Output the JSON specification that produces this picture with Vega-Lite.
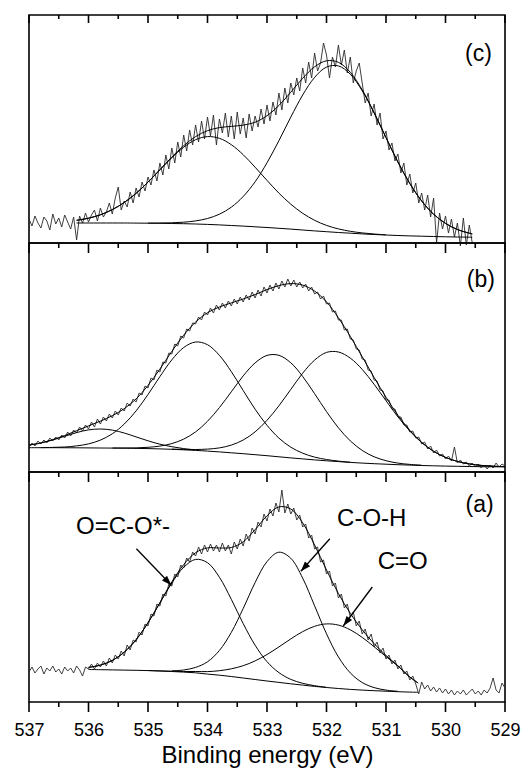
{
"$schema": "https://vega.github.io/schema/vega-lite/v6.json",
"padding": {"left": 13, "top": 13, "right": 2, "bottom": 2},
"background": "white",
"bounds": "flush",
"spacing": 0,
"resolve": {"scale": {"x": "independent", "y": "independent"}},
"config": {"view": {"stroke": "black", "strokeWidth": 1.6}, "font": "Liberation Sans", "axis": {"domain": false, "grid": false}},
"datasets": {
"tmaj": [{"E":529.0},{"E":530.0},{"E":531.0},{"E":532.0},{"E":533.0},{"E":534.0},{"E":535.0},{"E":536.0},{"E":537.0}],
"tmin": [{"E":529.5},{"E":530.5},{"E":531.5},{"E":532.5},{"E":533.5},{"E":534.5},{"E":535.5},{"E":536.5}],
"c_data": [
{"E":537.00,"I":24},{"E":536.95,"I":17},{"E":536.90,"I":27},{"E":536.85,"I":20},{"E":536.80,"I":15},{"E":536.75,"I":26},{"E":536.70,"I":22},{"E":536.65,"I":13},{"E":536.60,"I":29},{"E":536.55,"I":19},
{"E":536.50,"I":25},{"E":536.45,"I":16},{"E":536.40,"I":28},{"E":536.35,"I":21},{"E":536.30,"I":14},{"E":536.25,"I":26},{"E":536.20,"I":3},{"E":536.15,"I":27},{"E":536.10,"I":20},{"E":536.05,"I":30},
{"E":536.00,"I":21},{"E":535.95,"I":28},{"E":535.90,"I":33},{"E":535.85,"I":22},{"E":535.80,"I":35},{"E":535.75,"I":26},{"E":535.70,"I":31},{"E":535.65,"I":40},{"E":535.60,"I":29},{"E":535.55,"I":45},
{"E":535.50,"I":56},{"E":535.45,"I":33},{"E":535.40,"I":42},{"E":535.35,"I":36},{"E":535.30,"I":51},{"E":535.25,"I":40},{"E":535.20,"I":55},{"E":535.15,"I":46},{"E":535.10,"I":61},{"E":535.05,"I":52},
{"E":535.00,"I":66},{"E":534.95,"I":58},{"E":534.90,"I":73},{"E":534.85,"I":62},{"E":534.80,"I":80},{"E":534.75,"I":68},{"E":534.70,"I":88},{"E":534.65,"I":74},{"E":534.60,"I":95},{"E":534.55,"I":80},
{"E":534.50,"I":101},{"E":534.45,"I":86},{"E":534.40,"I":108},{"E":534.35,"I":92},{"E":534.30,"I":113},{"E":534.25,"I":98},{"E":534.20,"I":118},{"E":534.15,"I":101},{"E":534.10,"I":122},{"E":534.05,"I":104},
{"E":534.00,"I":126},{"E":533.95,"I":107},{"E":533.90,"I":128},{"E":533.85,"I":98},{"E":533.80,"I":124},{"E":533.75,"I":110},{"E":533.70,"I":130},{"E":533.65,"I":106},{"E":533.60,"I":127},{"E":533.55,"I":104},
{"E":533.50,"I":131},{"E":533.45,"I":109},{"E":533.40,"I":125},{"E":533.35,"I":105},{"E":533.30,"I":129},{"E":533.25,"I":112},{"E":533.20,"I":127},{"E":533.15,"I":116},{"E":533.10,"I":134},{"E":533.05,"I":119},
{"E":533.00,"I":138},{"E":532.95,"I":122},{"E":532.90,"I":141},{"E":532.85,"I":128},{"E":532.80,"I":150},{"E":532.75,"I":133},{"E":532.70,"I":155},{"E":532.65,"I":140},{"E":532.60,"I":160},{"E":532.55,"I":148},
{"E":532.50,"I":165},{"E":532.45,"I":152},{"E":532.40,"I":175},{"E":532.35,"I":160},{"E":532.30,"I":181},{"E":532.25,"I":165},{"E":532.20,"I":190},{"E":532.15,"I":172},{"E":532.10,"I":180},{"E":532.05,"I":200},
{"E":532.00,"I":188},{"E":531.95,"I":165},{"E":531.90,"I":186},{"E":531.85,"I":176},{"E":531.80,"I":198},{"E":531.75,"I":178},{"E":531.70,"I":193},{"E":531.65,"I":170},{"E":531.60,"I":186},{"E":531.55,"I":160},
{"E":531.50,"I":172},{"E":531.45,"I":180},{"E":531.40,"I":160},{"E":531.35,"I":140},{"E":531.30,"I":150},{"E":531.25,"I":127},{"E":531.20,"I":139},{"E":531.15,"I":118},{"E":531.10,"I":130},{"E":531.05,"I":104},
{"E":531.00,"I":112},{"E":530.95,"I":93},{"E":530.90,"I":100},{"E":530.85,"I":82},{"E":530.80,"I":89},{"E":530.75,"I":70},{"E":530.70,"I":80},{"E":530.65,"I":58},{"E":530.60,"I":69},{"E":530.55,"I":50},
{"E":530.50,"I":60},{"E":530.45,"I":40},{"E":530.40,"I":50},{"E":530.35,"I":33},{"E":530.30,"I":48},{"E":530.25,"I":26},{"E":530.20,"I":45},{"E":530.15,"I":0},{"E":530.10,"I":30},{"E":530.05,"I":14},
{"E":530.00,"I":27},{"E":529.95,"I":10},{"E":529.90,"I":24},{"E":529.85,"I":6},{"E":529.80,"I":20},{"E":529.75,"I":-3},{"E":529.70,"I":25},{"E":529.65,"I":-2},{"E":529.60,"I":18},{"E":529.55,"I":0}
],
"c_fit": [
{"s":"env","E":536.2,"I":22.7},{"s":"env","E":536.0,"I":24.8},{"s":"env","E":535.8,"I":28.2},{"s":"env","E":535.6,"I":33.4},{"s":"env","E":535.4,"I":40.5},{"s":"env","E":535.2,"I":49.7},{"s":"env","E":535.0,"I":60.9},{"s":"env","E":534.8,"I":73.4},{"s":"env","E":534.6,"I":85.9},{"s":"env","E":534.4,"I":97.3},{"s":"env","E":534.2,"I":106.4},{"s":"env","E":534.0,"I":112.3},{"s":"env","E":533.8,"I":115.4},{"s":"env","E":533.6,"I":116.6},{"s":"env","E":533.4,"I":117.9},{"s":"env","E":533.2,"I":120.8},{"s":"env","E":533.0,"I":127.3},{"s":"env","E":532.8,"I":137.5},{"s":"env","E":532.6,"I":150.8},{"s":"env","E":532.4,"I":164.7},{"s":"env","E":532.2,"I":176.2},{"s":"env","E":532.0,"I":182.2},{"s":"env","E":531.8,"I":180.7},{"s":"env","E":531.6,"I":170.7},{"s":"env","E":531.4,"I":153.2},{"s":"env","E":531.2,"I":130.5},{"s":"env","E":531.0,"I":105.5},{"s":"env","E":530.8,"I":81.0},{"s":"env","E":530.6,"I":59.5},{"s":"env","E":530.4,"I":42.0},{"s":"env","E":530.2,"I":28.8},{"s":"env","E":530.0,"I":19.6},{"s":"env","E":529.8,"I":13.5},{"s":"env","E":529.6,"I":9.8},{"s":"env","E":529.55,"I":9.1},
{"s":"g1","E":536.2,"I":22.7},{"s":"g1","E":536.0,"I":24.8},{"s":"g1","E":535.8,"I":28.2},{"s":"g1","E":535.6,"I":33.4},{"s":"g1","E":535.4,"I":40.5},{"s":"g1","E":535.2,"I":49.7},{"s":"g1","E":535.0,"I":60.8},{"s":"g1","E":534.8,"I":73.1},{"s":"g1","E":534.6,"I":85.2},{"s":"g1","E":534.4,"I":95.8},{"s":"g1","E":534.2,"I":103.3},{"s":"g1","E":534.0,"I":106.4},{"s":"g1","E":533.8,"I":104.7},{"s":"g1","E":533.6,"I":98.3},{"s":"g1","E":533.4,"I":88.3},{"s":"g1","E":533.2,"I":75.8},{"s":"g1","E":533.0,"I":62.6},{"s":"g1","E":532.8,"I":49.9},{"s":"g1","E":532.6,"I":38.8},{"s":"g1","E":532.4,"I":29.7},{"s":"g1","E":532.2,"I":22.7},{"s":"g1","E":532.0,"I":17.6},{"s":"g1","E":531.8,"I":14.1},{"s":"g1","E":531.6,"I":11.7},{"s":"g1","E":531.4,"I":10.1},{"s":"g1","E":531.2,"I":9.0},{"s":"g1","E":531.0,"I":8.2},
{"s":"g2","E":535.0,"I":19.9},{"s":"g2","E":534.8,"I":20.0},{"s":"g2","E":534.6,"I":20.2},{"s":"g2","E":534.4,"I":20.8},{"s":"g2","E":534.2,"I":22.1},{"s":"g2","E":534.0,"I":24.5},{"s":"g2","E":533.8,"I":28.8},{"s":"g2","E":533.6,"I":35.8},{"s":"g2","E":533.4,"I":46.5},{"s":"g2","E":533.2,"I":61.2},{"s":"g2","E":533.0,"I":80.2},{"s":"g2","E":532.8,"I":102.3},{"s":"g2","E":532.6,"I":125.9},{"s":"g2","E":532.4,"I":148.0},{"s":"g2","E":532.2,"I":165.6},{"s":"g2","E":532.0,"I":175.9},{"s":"g2","E":531.8,"I":177.1},{"s":"g2","E":531.6,"I":168.8},{"s":"g2","E":531.4,"I":152.2},{"s":"g2","E":531.2,"I":130.0},{"s":"g2","E":531.0,"I":105.3},{"s":"g2","E":530.8,"I":81.0},{"s":"g2","E":530.6,"I":59.5},{"s":"g2","E":530.4,"I":42.0},{"s":"g2","E":530.2,"I":28.8},{"s":"g2","E":530.0,"I":19.6},{"s":"g2","E":529.8,"I":13.5},{"s":"g2","E":529.6,"I":9.8},{"s":"g2","E":529.55,"I":9.1}
],
"c_base": [
{"E":536.2,"I":20},{"E":535.8,"I":20},{"E":535.4,"I":20},{"E":535.2,"I":19.9},{"E":535.0,"I":19.8},{"E":534.8,"I":19.7},{"E":534.6,"I":19.5},{"E":534.4,"I":19.3},{"E":534.2,"I":19.0},{"E":534.0,"I":18.6},{"E":533.8,"I":18.1},{"E":533.6,"I":17.5},{"E":533.4,"I":16.9},{"E":533.2,"I":16.2},{"E":533.0,"I":15.5},{"E":532.8,"I":14.7},{"E":532.6,"I":13.9},{"E":532.4,"I":13.0},{"E":532.2,"I":12.1},{"E":532.0,"I":11.3},{"E":531.8,"I":10.5},{"E":531.6,"I":9.8},{"E":531.4,"I":9.1},{"E":531.2,"I":8.5},{"E":531.0,"I":8.0},{"E":530.8,"I":7.5},{"E":530.6,"I":7.1},{"E":530.4,"I":6.8},{"E":530.2,"I":6.5},{"E":530.0,"I":6.2},{"E":529.8,"I":6.0},{"E":529.6,"I":5.8},{"E":529.55,"I":5.7}
],
"c_label": [{"E":529.22,"I":189,"t":"(c)"}],
"b_data": [
{"E":537.00,"I":25},{"E":536.95,"I":29},{"E":536.90,"I":26},{"E":536.85,"I":31},{"E":536.80,"I":28},{"E":536.75,"I":32},{"E":536.70,"I":29},{"E":536.65,"I":34},{"E":536.60,"I":31},{"E":536.55,"I":35},
{"E":536.50,"I":32},{"E":536.45,"I":37},{"E":536.40,"I":34},{"E":536.35,"I":40},{"E":536.30,"I":36},{"E":536.25,"I":42},{"E":536.20,"I":39},{"E":536.15,"I":45},{"E":536.10,"I":41},{"E":536.05,"I":47},
{"E":536.00,"I":43},{"E":535.95,"I":50},{"E":535.90,"I":45},{"E":535.85,"I":53},{"E":535.80,"I":48},{"E":535.75,"I":55},{"E":535.70,"I":51},{"E":535.65,"I":58},{"E":535.60,"I":54},{"E":535.55,"I":61},
{"E":535.50,"I":57},{"E":535.45,"I":64},{"E":535.40,"I":61},{"E":535.35,"I":69},{"E":535.30,"I":66},{"E":535.25,"I":73},{"E":535.20,"I":70},{"E":535.15,"I":79},{"E":535.10,"I":77},{"E":535.05,"I":86},
{"E":535.00,"I":84},{"E":534.95,"I":94},{"E":534.90,"I":92},{"E":534.85,"I":102},{"E":534.80,"I":100},{"E":534.75,"I":110},{"E":534.70,"I":109},{"E":534.65,"I":119},{"E":534.60,"I":118},{"E":534.55,"I":128},
{"E":534.50,"I":126},{"E":534.45,"I":136},{"E":534.40,"I":134},{"E":534.35,"I":143},{"E":534.30,"I":141},{"E":534.25,"I":149},{"E":534.20,"I":148},{"E":534.15,"I":155},{"E":534.10,"I":152},{"E":534.05,"I":160},
{"E":534.00,"I":157},{"E":533.95,"I":164},{"E":533.90,"I":159},{"E":533.85,"I":167},{"E":533.80,"I":162},{"E":533.75,"I":169},{"E":533.70,"I":164},{"E":533.65,"I":171},{"E":533.60,"I":166},{"E":533.55,"I":173},
{"E":533.50,"I":168},{"E":533.45,"I":175},{"E":533.40,"I":170},{"E":533.35,"I":177},{"E":533.30,"I":172},{"E":533.25,"I":180},{"E":533.20,"I":174},{"E":533.15,"I":182},{"E":533.10,"I":176},{"E":533.05,"I":185},
{"E":533.00,"I":179},{"E":532.95,"I":187},{"E":532.90,"I":181},{"E":532.85,"I":189},{"E":532.80,"I":183},{"E":532.75,"I":191},{"E":532.70,"I":185},{"E":532.65,"I":193},{"E":532.60,"I":186},{"E":532.55,"I":192},
{"E":532.50,"I":185},{"E":532.45,"I":190},{"E":532.40,"I":184},{"E":532.35,"I":188},{"E":532.30,"I":181},{"E":532.25,"I":185},{"E":532.20,"I":178},{"E":532.15,"I":180},{"E":532.10,"I":173},{"E":532.05,"I":176},
{"E":532.00,"I":168},{"E":531.95,"I":169},{"E":531.90,"I":160},{"E":531.85,"I":161},{"E":531.80,"I":152},{"E":531.75,"I":152},{"E":531.70,"I":142},{"E":531.65,"I":143},{"E":531.60,"I":133},{"E":531.55,"I":132},
{"E":531.50,"I":123},{"E":531.45,"I":122},{"E":531.40,"I":113},{"E":531.35,"I":112},{"E":531.30,"I":102},{"E":531.25,"I":101},{"E":531.20,"I":92},{"E":531.15,"I":91},{"E":531.10,"I":82},{"E":531.05,"I":81},
{"E":531.00,"I":72},{"E":530.95,"I":72},{"E":530.90,"I":63},{"E":530.85,"I":63},{"E":530.80,"I":55},{"E":530.75,"I":55},{"E":530.70,"I":47},{"E":530.65,"I":47},{"E":530.60,"I":40},{"E":530.55,"I":41},
{"E":530.50,"I":34},{"E":530.45,"I":35},{"E":530.40,"I":28},{"E":530.35,"I":30},{"E":530.30,"I":23},{"E":530.25,"I":26},{"E":530.20,"I":19},{"E":530.15,"I":22},{"E":530.10,"I":16},{"E":530.05,"I":18},
{"E":530.00,"I":13},{"E":529.95,"I":16},{"E":529.90,"I":11},{"E":529.85,"I":25},{"E":529.80,"I":9},{"E":529.75,"I":12},{"E":529.70,"I":8},{"E":529.65,"I":10},{"E":529.60,"I":6},{"E":529.55,"I":9},
{"E":529.50,"I":5},{"E":529.45,"I":8},{"E":529.40,"I":4},{"E":529.35,"I":7},{"E":529.30,"I":3},{"E":529.25,"I":7},{"E":529.20,"I":4},{"E":529.15,"I":9},{"E":529.10,"I":5},{"E":529.05,"I":8},{"E":529.00,"I":6}
],
"b_fit": [
{"s":"env","E":537.0,"I":26.9},{"s":"env","E":536.8,"I":29.1},{"s":"env","E":536.6,"I":32.4},{"s":"env","E":536.4,"I":36.5},{"s":"env","E":536.2,"I":41.3},{"s":"env","E":536.0,"I":46.1},{"s":"env","E":535.8,"I":50.9},{"s":"env","E":535.6,"I":56.3},{"s":"env","E":535.4,"I":63.3},{"s":"env","E":535.2,"I":73.1},{"s":"env","E":535.0,"I":86.6},{"s":"env","E":534.8,"I":102.9},{"s":"env","E":534.6,"I":120.6},{"s":"env","E":534.4,"I":136.8},{"s":"env","E":534.2,"I":149.9},{"s":"env","E":534.0,"I":159.3},{"s":"env","E":533.8,"I":165.0},{"s":"env","E":533.6,"I":169.1},{"s":"env","E":533.4,"I":173.0},{"s":"env","E":533.2,"I":177.4},{"s":"env","E":533.0,"I":182.4},{"s":"env","E":532.8,"I":186.4},{"s":"env","E":532.6,"I":188.4},{"s":"env","E":532.4,"I":186.9},{"s":"env","E":532.2,"I":180.9},{"s":"env","E":532.0,"I":170.1},{"s":"env","E":531.8,"I":154.3},{"s":"env","E":531.6,"I":135.6},{"s":"env","E":531.4,"I":115.3},{"s":"env","E":531.2,"I":94.6},{"s":"env","E":531.0,"I":74.8},{"s":"env","E":530.8,"I":56.8},{"s":"env","E":530.6,"I":41.7},{"s":"env","E":530.4,"I":29.7},{"s":"env","E":530.2,"I":20.7},{"s":"env","E":530.0,"I":14.6},{"s":"env","E":529.8,"I":10.6},{"s":"env","E":529.6,"I":8.1},{"s":"env","E":529.4,"I":6.6},{"s":"env","E":529.2,"I":5.8},{"s":"env","E":529.0,"I":5.4},
{"s":"g1","E":537.0,"I":26.9},{"s":"g1","E":536.8,"I":29.0},{"s":"g1","E":536.6,"I":32.1},{"s":"g1","E":536.4,"I":35.7},{"s":"g1","E":536.2,"I":39.4},{"s":"g1","E":536.0,"I":42.1},{"s":"g1","E":535.8,"I":43.0},{"s":"g1","E":535.6,"I":41.9},{"s":"g1","E":535.4,"I":39.0},{"s":"g1","E":535.2,"I":35.1},{"s":"g1","E":535.0,"I":31.2},{"s":"g1","E":534.8,"I":27.8},{"s":"g1","E":534.6,"I":25.3},{"s":"g1","E":534.4,"I":23.4},{"s":"g1","E":534.2,"I":22.1},
{"s":"g2","E":536.8,"I":24.4},{"s":"g2","E":536.6,"I":24.6},{"s":"g2","E":536.4,"I":25.0},{"s":"g2","E":536.2,"I":26.1},{"s":"g2","E":536.0,"I":28.1},{"s":"g2","E":535.8,"I":31.9},{"s":"g2","E":535.6,"I":38.2},{"s":"g2","E":535.4,"I":47.9},{"s":"g2","E":535.2,"I":61.1},{"s":"g2","E":535.0,"I":77.5},{"s":"g2","E":534.8,"I":95.4},{"s":"g2","E":534.6,"I":112.1},{"s":"g2","E":534.4,"I":124.5},{"s":"g2","E":534.2,"I":130.0},{"s":"g2","E":534.0,"I":127.3},{"s":"g2","E":533.8,"I":116.7},{"s":"g2","E":533.6,"I":100.4},{"s":"g2","E":533.4,"I":81.5},{"s":"g2","E":533.2,"I":62.8},{"s":"g2","E":533.0,"I":46.7},{"s":"g2","E":532.8,"I":33.9},{"s":"g2","E":532.6,"I":24.8},{"s":"g2","E":532.4,"I":18.8},{"s":"g2","E":532.2,"I":14.9},{"s":"g2","E":532.0,"I":12.5},{"s":"g2","E":531.8,"I":10.9},{"s":"g2","E":531.6,"I":9.8},
{"s":"g3","E":535.6,"I":24.0},{"s":"g3","E":535.4,"I":24.0},{"s":"g3","E":535.2,"I":24.1},{"s":"g3","E":535.0,"I":24.7},{"s":"g3","E":534.8,"I":25.9},{"s":"g3","E":534.6,"I":28.4},{"s":"g3","E":534.4,"I":32.9},{"s":"g3","E":534.2,"I":40.1},{"s":"g3","E":534.0,"I":50.7},{"s":"g3","E":533.8,"I":64.4},{"s":"g3","E":533.6,"I":80.2},{"s":"g3","E":533.4,"I":96.1},{"s":"g3","E":533.2,"I":109.1},{"s":"g3","E":533.0,"I":116.6},{"s":"g3","E":532.8,"I":116.7},{"s":"g3","E":532.6,"I":109.2},{"s":"g3","E":532.4,"I":95.5},{"s":"g3","E":532.2,"I":78.3},{"s":"g3","E":532.0,"I":60.4},{"s":"g3","E":531.8,"I":44.2},{"s":"g3","E":531.6,"I":31.1},{"s":"g3","E":531.4,"I":21.6},{"s":"g3","E":531.2,"I":15.2},{"s":"g3","E":531.0,"I":11.3},{"s":"g3","E":530.8,"I":8.9},{"s":"g3","E":530.6,"I":7.6},{"s":"g3","E":530.4,"I":6.8},
{"s":"g4","E":534.6,"I":22.9},{"s":"g4","E":534.4,"I":22.6},{"s":"g4","E":534.2,"I":22.5},{"s":"g4","E":534.0,"I":22.9},{"s":"g4","E":533.8,"I":24.1},{"s":"g4","E":533.6,"I":26.9},{"s":"g4","E":533.4,"I":32.0},{"s":"g4","E":533.2,"I":40.1},{"s":"g4","E":533.0,"I":51.7},{"s":"g4","E":532.8,"I":66.2},{"s":"g4","E":532.6,"I":82.6},{"s":"g4","E":532.4,"I":98.8},{"s":"g4","E":532.2,"I":111.9},{"s":"g4","E":532.0,"I":119.6},{"s":"g4","E":531.8,"I":120.0},{"s":"g4","E":531.6,"I":113.9},{"s":"g4","E":531.4,"I":102.6},{"s":"g4","E":531.2,"I":87.7},{"s":"g4","E":531.0,"I":71.3},{"s":"g4","E":530.8,"I":55.2},{"s":"g4","E":530.6,"I":41.0},{"s":"g4","E":530.4,"I":29.4},{"s":"g4","E":530.2,"I":20.7},{"s":"g4","E":530.0,"I":14.6},{"s":"g4","E":529.8,"I":10.6},{"s":"g4","E":529.6,"I":8.1},{"s":"g4","E":529.4,"I":6.6},{"s":"g4","E":529.2,"I":5.8},{"s":"g4","E":529.0,"I":5.35}
],
"b_base": [
{"E":537.0,"I":24.3},{"E":536.6,"I":24.3},{"E":536.2,"I":24.2},{"E":535.8,"I":24.0},{"E":535.4,"I":23.8},{"E":535.2,"I":23.6},{"E":535.0,"I":23.4},{"E":534.8,"I":23.1},{"E":534.6,"I":22.7},{"E":534.4,"I":22.2},{"E":534.2,"I":21.6},{"E":534.0,"I":20.9},{"E":533.8,"I":20.1},{"E":533.6,"I":19.2},{"E":533.4,"I":18.3},{"E":533.2,"I":17.3},{"E":533.0,"I":16.3},{"E":532.8,"I":15.2},{"E":532.6,"I":14.1},{"E":532.4,"I":13.1},{"E":532.2,"I":12.1},{"E":532.0,"I":11.2},{"E":531.8,"I":10.4},{"E":531.6,"I":9.6},{"E":531.4,"I":8.9},{"E":531.2,"I":8.3},{"E":531.0,"I":7.8},{"E":530.8,"I":7.3},{"E":530.6,"I":6.9},{"E":530.4,"I":6.5},{"E":530.2,"I":6.2},{"E":530.0,"I":5.9},{"E":529.8,"I":5.7},{"E":529.6,"I":5.5},{"E":529.4,"I":5.3},{"E":529.2,"I":5.2},{"E":529.0,"I":5.1}
],
"b_label": [{"E":529.17,"I":192,"t":"(b)"}],
"a_data": [
{"E":537.00,"I":30},{"E":536.95,"I":35},{"E":536.90,"I":29},{"E":536.85,"I":33},{"E":536.80,"I":36},{"E":536.75,"I":28},{"E":536.70,"I":34},{"E":536.65,"I":31},{"E":536.60,"I":36},{"E":536.55,"I":30},
{"E":536.50,"I":33},{"E":536.45,"I":28},{"E":536.40,"I":35},{"E":536.35,"I":31},{"E":536.30,"I":34},{"E":536.25,"I":29},{"E":536.20,"I":36},{"E":536.15,"I":32},{"E":536.10,"I":26},{"E":536.05,"I":35},
{"E":536.00,"I":33},{"E":535.95,"I":38},{"E":535.90,"I":33},{"E":535.85,"I":39},{"E":535.80,"I":35},{"E":535.75,"I":41},{"E":535.70,"I":36},{"E":535.65,"I":44},{"E":535.60,"I":39},{"E":535.55,"I":47},
{"E":535.50,"I":43},{"E":535.45,"I":51},{"E":535.40,"I":46},{"E":535.35,"I":57},{"E":535.30,"I":52},{"E":535.25,"I":62},{"E":535.20,"I":60},{"E":535.15,"I":70},{"E":535.10,"I":67},{"E":535.05,"I":78},
{"E":535.00,"I":76},{"E":534.95,"I":88},{"E":534.90,"I":86},{"E":534.85,"I":98},{"E":534.80,"I":96},{"E":534.75,"I":108},{"E":534.70,"I":106},{"E":534.65,"I":118},{"E":534.60,"I":116},{"E":534.55,"I":128},
{"E":534.50,"I":125},{"E":534.45,"I":137},{"E":534.40,"I":134},{"E":534.35,"I":144},{"E":534.30,"I":140},{"E":534.25,"I":150},{"E":534.20,"I":146},{"E":534.15,"I":155},{"E":534.10,"I":148},{"E":534.05,"I":157},
{"E":534.00,"I":150},{"E":533.95,"I":158},{"E":533.90,"I":151},{"E":533.85,"I":157},{"E":533.80,"I":150},{"E":533.75,"I":159},{"E":533.70,"I":151},{"E":533.65,"I":157},{"E":533.60,"I":148},{"E":533.55,"I":160},
{"E":533.50,"I":153},{"E":533.45,"I":163},{"E":533.40,"I":156},{"E":533.35,"I":168},{"E":533.30,"I":161},{"E":533.25,"I":174},{"E":533.20,"I":168},{"E":533.15,"I":180},{"E":533.10,"I":175},{"E":533.05,"I":188},
{"E":533.00,"I":181},{"E":532.95,"I":193},{"E":532.90,"I":186},{"E":532.85,"I":199},{"E":532.80,"I":190},{"E":532.75,"I":212},{"E":532.70,"I":189},{"E":532.65,"I":198},{"E":532.60,"I":188},{"E":532.55,"I":194},
{"E":532.50,"I":182},{"E":532.45,"I":187},{"E":532.40,"I":175},{"E":532.35,"I":178},{"E":532.30,"I":164},{"E":532.25,"I":167},{"E":532.20,"I":153},{"E":532.15,"I":155},{"E":532.10,"I":140},{"E":532.05,"I":142},
{"E":532.00,"I":128},{"E":531.95,"I":131},{"E":531.90,"I":116},{"E":531.85,"I":119},{"E":531.80,"I":104},{"E":531.75,"I":108},{"E":531.70,"I":94},{"E":531.65,"I":98},{"E":531.60,"I":85},{"E":531.55,"I":90},
{"E":531.50,"I":76},{"E":531.45,"I":81},{"E":531.40,"I":68},{"E":531.35,"I":73},{"E":531.30,"I":62},{"E":531.25,"I":68},{"E":531.20,"I":55},{"E":531.15,"I":60},{"E":531.10,"I":49},{"E":531.05,"I":54},
{"E":531.00,"I":43},{"E":530.95,"I":47},{"E":530.90,"I":38},{"E":530.85,"I":42},{"E":530.80,"I":33},{"E":530.75,"I":37},{"E":530.70,"I":28},{"E":530.65,"I":31},{"E":530.60,"I":22},{"E":530.55,"I":26},
{"E":530.50,"I":18},{"E":530.45,"I":8},{"E":530.40,"I":20},{"E":530.35,"I":13},{"E":530.30,"I":17},{"E":530.25,"I":11},{"E":530.20,"I":15},{"E":530.15,"I":10},{"E":530.10,"I":14},{"E":530.05,"I":9},
{"E":530.00,"I":13},{"E":529.95,"I":8},{"E":529.90,"I":12},{"E":529.85,"I":7},{"E":529.80,"I":11},{"E":529.75,"I":8},{"E":529.70,"I":12},{"E":529.65,"I":7},{"E":529.60,"I":10},{"E":529.55,"I":13},
{"E":529.50,"I":8},{"E":529.45,"I":11},{"E":529.40,"I":7},{"E":529.35,"I":12},{"E":529.30,"I":9},{"E":529.25,"I":14},{"E":529.20,"I":24},{"E":529.15,"I":12},{"E":529.10,"I":9},{"E":529.05,"I":19},{"E":529.00,"I":14}
],
"a_fit": [
{"s":"env","E":536.0,"I":34.6},{"s":"env","E":535.8,"I":36.9},{"s":"env","E":535.6,"I":41.6},{"s":"env","E":535.4,"I":49.8},{"s":"env","E":535.2,"I":62.3},{"s":"env","E":535.0,"I":79.3},{"s":"env","E":534.8,"I":99.3},{"s":"env","E":534.6,"I":120.0},{"s":"env","E":534.4,"I":137.4},{"s":"env","E":534.2,"I":149.3},{"s":"env","E":534.0,"I":154.1},{"s":"env","E":533.8,"I":154.0},{"s":"env","E":533.6,"I":154.5},{"s":"env","E":533.4,"I":160.2},{"s":"env","E":533.2,"I":172.3},{"s":"env","E":533.0,"I":186.2},{"s":"env","E":532.8,"I":195.1},{"s":"env","E":532.6,"I":193.0},{"s":"env","E":532.4,"I":179.1},{"s":"env","E":532.2,"I":157.0},{"s":"env","E":532.0,"I":132.0},{"s":"env","E":531.8,"I":108.5},{"s":"env","E":531.6,"I":88.7},{"s":"env","E":531.4,"I":72.2},{"s":"env","E":531.2,"I":58.4},{"s":"env","E":531.0,"I":46.5},{"s":"env","E":530.8,"I":36.3},{"s":"env","E":530.6,"I":25.0},{"s":"env","E":530.46,"I":19.0},
{"s":"g1","E":536.0,"I":34.6},{"s":"g1","E":535.8,"I":36.9},{"s":"g1","E":535.6,"I":41.6},{"s":"g1","E":535.4,"I":49.8},{"s":"g1","E":535.2,"I":62.3},{"s":"g1","E":535.0,"I":79.2},{"s":"g1","E":534.8,"I":99.1},{"s":"g1","E":534.6,"I":119.0},{"s":"g1","E":534.4,"I":134.7},{"s":"g1","E":534.2,"I":142.6},{"s":"g1","E":534.0,"I":139.3},{"s":"g1","E":533.8,"I":124.8},{"s":"g1","E":533.6,"I":102.7},{"s":"g1","E":533.4,"I":78.4},{"s":"g1","E":533.2,"I":56.8},{"s":"g1","E":533.0,"I":40.3},{"s":"g1","E":532.8,"I":29.4},{"s":"g1","E":532.6,"I":22.6},{"s":"g1","E":532.4,"I":18.7},{"s":"g1","E":532.2,"I":16.3},{"s":"g1","E":532.0,"I":14.7},
{"s":"g2","E":534.6,"I":31.2},{"s":"g2","E":534.4,"I":32.0},{"s":"g2","E":534.2,"I":34.6},{"s":"g2","E":534.0,"I":40.2},{"s":"g2","E":533.8,"I":51.5},{"s":"g2","E":533.6,"I":69.6},{"s":"g2","E":533.4,"I":93.5},{"s":"g2","E":533.2,"I":119.4},{"s":"g2","E":533.0,"I":140.4},{"s":"g2","E":532.8,"I":149.8},{"s":"g2","E":532.6,"I":143.7},{"s":"g2","E":532.4,"I":123.8},{"s":"g2","E":532.2,"I":96.2},{"s":"g2","E":532.0,"I":68.2},{"s":"g2","E":531.8,"I":45.1},{"s":"g2","E":531.6,"I":29.1},{"s":"g2","E":531.4,"I":19.5},{"s":"g2","E":531.2,"I":14.4},{"s":"g2","E":531.0,"I":11.9},{"s":"g2","E":530.8,"I":10.7},
{"s":"g3","E":535.0,"I":31.5},{"s":"g3","E":534.8,"I":31.1},{"s":"g3","E":534.6,"I":30.8},{"s":"g3","E":534.4,"I":30.5},{"s":"g3","E":534.2,"I":30.5},{"s":"g3","E":534.0,"I":30.4},{"s":"g3","E":533.8,"I":31.3},{"s":"g3","E":533.6,"I":33.2},{"s":"g3","E":533.4,"I":36.3},{"s":"g3","E":533.2,"I":41.1},{"s":"g3","E":533.0,"I":47.5},{"s":"g3","E":532.8,"I":55.1},{"s":"g3","E":532.6,"I":63.1},{"s":"g3","E":532.4,"I":70.4},{"s":"g3","E":532.2,"I":75.7},{"s":"g3","E":532.0,"I":78.1},{"s":"g3","E":531.8,"I":76.9},{"s":"g3","E":531.6,"I":72.2},{"s":"g3","E":531.4,"I":64.6},{"s":"g3","E":531.2,"I":55.3},{"s":"g3","E":531.0,"I":45.4},{"s":"g3","E":530.8,"I":35.9},{"s":"g3","E":530.6,"I":25.0},{"s":"g3","E":530.46,"I":19.0}
],
"a_base": [
{"E":536.0,"I":32.5},{"E":535.8,"I":32.3},{"E":535.6,"I":32.1},{"E":535.4,"I":31.9},{"E":535.2,"I":31.7},{"E":535.0,"I":31.4},{"E":534.8,"I":31.0},{"E":534.6,"I":30.5},{"E":534.4,"I":29.9},{"E":534.2,"I":29.2},{"E":534.0,"I":27.9},{"E":533.8,"I":26.8},{"E":533.6,"I":25.5},{"E":533.4,"I":24.0},{"E":533.2,"I":22.5},{"E":533.0,"I":21.0},{"E":532.8,"I":19.6},{"E":532.6,"I":18.2},{"E":532.4,"I":16.9},{"E":532.2,"I":15.6},{"E":532.0,"I":14.5},{"E":531.8,"I":13.5},{"E":531.6,"I":12.6},{"E":531.4,"I":11.9},{"E":531.2,"I":11.3},{"E":531.0,"I":10.8},{"E":530.8,"I":10.3},{"E":530.6,"I":9.9},{"E":530.46,"I":9.7}
],
"a_label": [{"E":529.19,"I":197,"t":"(a)"}],
"a_notes": [{"t":"O=C-O*-","E":535.42,"I":175},{"t":"C-O-H","E":531.24,"I":183},{"t":"C=O","E":530.72,"I":140}],
"a_arrows": [{"t":"O=C-O*-","E":535.195,"I":153.3,"E2":534.606,"I2":116.7},{"t":"C-O-H","E":531.944,"I":163.3,"E2":532.431,"I2":130.7},{"t":"C=O","E":531.23,"I":115,"E2":531.718,"I2":76}]
},
"vconcat": [
{
"width": 476, "height": 228,
"layer": [
{"data": {"name": "c_data"}, "mark": {"type": "line", "color": "#2a2a2a", "strokeWidth": 0.9},
 "encoding": {"x": {"field": "E", "type": "quantitative", "scale": {"domain": [529, 537], "reverse": true, "nice": false, "zero": false}, "axis": null}, "y": {"field": "I", "type": "quantitative", "scale": {"domain": [0, 228], "nice": false, "zero": false}, "axis": null}}},
{"data": {"name": "c_fit"}, "mark": {"type": "line", "interpolate": "catmull-rom", "color": "black", "strokeWidth": 1},
 "encoding": {"x": {"field": "E", "type": "quantitative", "axis": null}, "y": {"field": "I", "type": "quantitative", "axis": null}, "detail": {"field": "s", "type": "nominal"}}},
{"data": {"name": "c_base"}, "mark": {"type": "line", "interpolate": "catmull-rom", "color": "black", "strokeWidth": 1},
 "encoding": {"x": {"field": "E", "type": "quantitative", "axis": null}, "y": {"field": "I", "type": "quantitative", "axis": null}}},
{"data": {"name": "c_label"}, "mark": {"type": "text", "align": "right", "baseline": "middle", "fontSize": 23, "font": "Liberation Sans", "color": "black"},
 "encoding": {"x": {"field": "E", "type": "quantitative", "axis": null}, "y": {"field": "I", "type": "quantitative", "axis": null}, "text": {"field": "t", "type": "nominal"}}},
{"data": {"name": "tmaj"}, "mark": {"type": "rule", "color": "black", "strokeWidth": 1.6},
 "encoding": {"x": {"field": "E", "type": "quantitative", "axis": null}, "y": {"datum": 0, "type": "quantitative", "axis": null}, "y2": {"datum": -10}}},
{"data": {"name": "tmin"}, "mark": {"type": "rule", "color": "black", "strokeWidth": 1.6},
 "encoding": {"x": {"field": "E", "type": "quantitative", "axis": null}, "y": {"datum": 0, "type": "quantitative", "axis": null}, "y2": {"datum": -5}}},
{"data": {"name": "tmaj"}, "mark": {"type": "rule", "color": "black", "strokeWidth": 1.6},
 "encoding": {"x": {"field": "E", "type": "quantitative", "axis": null}, "y": {"datum": 228, "type": "quantitative", "axis": null}, "y2": {"datum": 220}}},
{"data": {"name": "tmin"}, "mark": {"type": "rule", "color": "black", "strokeWidth": 1.6},
 "encoding": {"x": {"field": "E", "type": "quantitative", "axis": null}, "y": {"datum": 228, "type": "quantitative", "axis": null}, "y2": {"datum": 224}}}
]
},
{
"width": 476, "height": 229,
"layer": [
{"data": {"name": "b_data"}, "mark": {"type": "line", "color": "#2a2a2a", "strokeWidth": 0.9},
 "encoding": {"x": {"field": "E", "type": "quantitative", "scale": {"domain": [529, 537], "reverse": true, "nice": false, "zero": false}, "axis": null}, "y": {"field": "I", "type": "quantitative", "scale": {"domain": [0, 229], "nice": false, "zero": false}, "axis": null}}},
{"data": {"name": "b_fit"}, "mark": {"type": "line", "interpolate": "catmull-rom", "color": "black", "strokeWidth": 1},
 "encoding": {"x": {"field": "E", "type": "quantitative", "axis": null}, "y": {"field": "I", "type": "quantitative", "axis": null}, "detail": {"field": "s", "type": "nominal"}}},
{"data": {"name": "b_base"}, "mark": {"type": "line", "interpolate": "catmull-rom", "color": "black", "strokeWidth": 1},
 "encoding": {"x": {"field": "E", "type": "quantitative", "axis": null}, "y": {"field": "I", "type": "quantitative", "axis": null}}},
{"data": {"name": "b_label"}, "mark": {"type": "text", "align": "right", "baseline": "middle", "fontSize": 23, "font": "Liberation Sans", "color": "black"},
 "encoding": {"x": {"field": "E", "type": "quantitative", "axis": null}, "y": {"field": "I", "type": "quantitative", "axis": null}, "text": {"field": "t", "type": "nominal"}}},
{"data": {"name": "tmaj"}, "mark": {"type": "rule", "color": "black", "strokeWidth": 1.6},
 "encoding": {"x": {"field": "E", "type": "quantitative", "axis": null}, "y": {"datum": 0, "type": "quantitative", "axis": null}, "y2": {"datum": -10}}},
{"data": {"name": "tmin"}, "mark": {"type": "rule", "color": "black", "strokeWidth": 1.6},
 "encoding": {"x": {"field": "E", "type": "quantitative", "axis": null}, "y": {"datum": 0, "type": "quantitative", "axis": null}, "y2": {"datum": -5}}}
]
},
{
"width": 476, "height": 230,
"layer": [
{"data": {"name": "a_data"}, "mark": {"type": "line", "color": "#2a2a2a", "strokeWidth": 0.9},
 "encoding": {"x": {"field": "E", "type": "quantitative", "scale": {"domain": [529, 537], "reverse": true, "nice": false, "zero": false}, "axis": {"orient": "bottom", "values": [529,530,531,532,533,534,535,536,537], "format": "d", "labels": true, "labelFont": "Liberation Sans", "labelFontSize": 18, "labelColor": "black", "labelPadding": 9, "labelFlush": false, "labelOverlap": false, "ticks": true, "tickSize": 10, "tickOpacity": 0, "title": "Binding energy (eV)", "titleFont": "Liberation Sans", "titleFontSize": 24, "titleFontWeight": "normal", "titleColor": "black", "titlePadding": 4}},
  "y": {"field": "I", "type": "quantitative", "scale": {"domain": [0, 230], "nice": false, "zero": false}, "axis": null}}},
{"data": {"name": "a_fit"}, "mark": {"type": "line", "interpolate": "catmull-rom", "color": "black", "strokeWidth": 1},
 "encoding": {"x": {"field": "E", "type": "quantitative"}, "y": {"field": "I", "type": "quantitative"}, "detail": {"field": "s", "type": "nominal"}}},
{"data": {"name": "a_base"}, "mark": {"type": "line", "interpolate": "catmull-rom", "color": "black", "strokeWidth": 1},
 "encoding": {"x": {"field": "E", "type": "quantitative"}, "y": {"field": "I", "type": "quantitative"}}},
{"data": {"name": "a_label"}, "mark": {"type": "text", "align": "right", "baseline": "middle", "fontSize": 23, "font": "Liberation Sans", "color": "black"},
 "encoding": {"x": {"field": "E", "type": "quantitative"}, "y": {"field": "I", "type": "quantitative"}, "text": {"field": "t", "type": "nominal"}}},
{"data": {"name": "a_notes"}, "mark": {"type": "text", "align": "center", "baseline": "middle", "fontSize": 24, "font": "Liberation Sans", "color": "black"},
 "encoding": {"x": {"field": "E", "type": "quantitative"}, "y": {"field": "I", "type": "quantitative"}, "text": {"field": "t", "type": "nominal"}}},
{"data": {"name": "a_arrows"}, "mark": {"type": "rule", "color": "black", "strokeWidth": 1.3},
 "encoding": {"x": {"field": "E", "type": "quantitative"}, "y": {"field": "I", "type": "quantitative"}, "x2": {"field": "E2"}, "y2": {"field": "I2"}}},
{"data": {"name": "a_arrows"}, "transform": [{"filter": "datum.t === 'O=C-O*-'"}], "mark": {"type": "point", "shape": "M0,0L-0.7,2L0.7,2Z", "size": 100, "filled": true, "color": "black", "opacity": 1, "strokeWidth": 0, "angle": 136},
 "encoding": {"x": {"field": "E2", "type": "quantitative"}, "y": {"field": "I2", "type": "quantitative"}}},
{"data": {"name": "a_arrows"}, "transform": [{"filter": "datum.t === 'C-O-H'"}], "mark": {"type": "point", "shape": "M0,0L-0.7,2L0.7,2Z", "size": 100, "filled": true, "color": "black", "opacity": 1, "strokeWidth": 0, "angle": 222},
 "encoding": {"x": {"field": "E2", "type": "quantitative"}, "y": {"field": "I2", "type": "quantitative"}}},
{"data": {"name": "a_arrows"}, "transform": [{"filter": "datum.t === 'C=O'"}], "mark": {"type": "point", "shape": "M0,0L-0.7,2L0.7,2Z", "size": 100, "filled": true, "color": "black", "opacity": 1, "strokeWidth": 0, "angle": 217},
 "encoding": {"x": {"field": "E2", "type": "quantitative"}, "y": {"field": "I2", "type": "quantitative"}}},
{"data": {"name": "tmaj"}, "mark": {"type": "rule", "color": "black", "strokeWidth": 1.6},
 "encoding": {"x": {"field": "E", "type": "quantitative"}, "y": {"datum": 0, "type": "quantitative"}, "y2": {"datum": -10}}},
{"data": {"name": "tmin"}, "mark": {"type": "rule", "color": "black", "strokeWidth": 1.6},
 "encoding": {"x": {"field": "E", "type": "quantitative"}, "y": {"datum": 0, "type": "quantitative"}, "y2": {"datum": -5}}}
]
}
]
}
